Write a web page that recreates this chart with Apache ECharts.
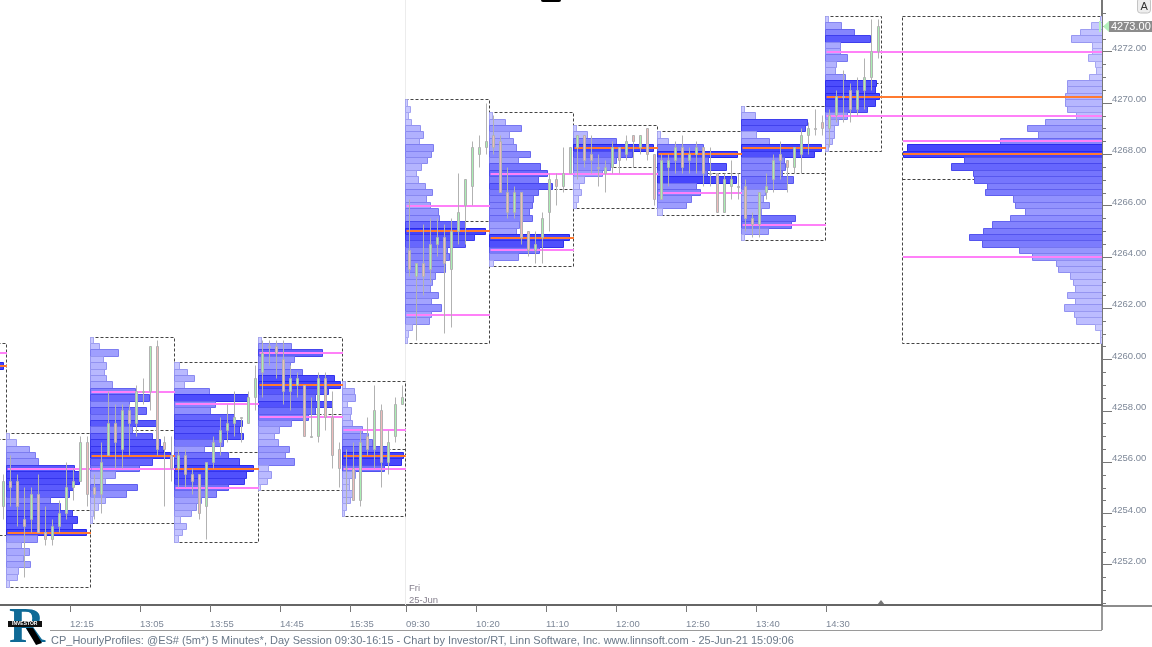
<!DOCTYPE html>
<html><head><meta charset="utf-8">
<style>html,body{margin:0;padding:0;background:#fff}#c{width:1152px;height:647px}</style>
<script src="https://cdn.jsdelivr.net/npm/echarts@6/dist/echarts.min.js"></script>
</head><body><div id="c"></div>
<script>
const FONT='"Liberation Sans",Arial,sans-serif';
const xTickBars=[10,20,30,40,50,58,68,78,88,98,108,118];
const xTickLabels=['12:15','13:05','13:55','14:45','15:35','09:30','10:20','11:10','12:00','12:50','13:40','14:30'];
const yMajorTicks=[4252,4254,4256,4258,4260,4262,4264,4266,4268,4270,4272];
const yMinorTicks=[4250.5,4251,4251.5,4252.5,4253,4253.5,4254.5,4255,4255.5,4256.5,4257,4257.5,4258.5,4259,4259.5,4260.5,4261,4261.5,4262.5,4263,4263.5,4264.5,4265,4265.5,4266.5,4267,4267.5,4268.5,4269,4269.5,4270.5,4271,4271.5,4272.5,4273,4273.5];
const lastPrice=4273;
const sessionBreakBars=[58];

// hourly profiles: first bar, last bar, top row price, POC, value-area prices, row volumes top to bottom
const profileStart=[-11,1,13,25,37,49,58,70,82,94,106,118];
const profileEnd=[1,13,25,37,49,58,70,82,94,106,118,126];
const lineEnd=[1,13,25,37,49,58,70,82,94,106,118,157.43];
const profileHigh=[4260.5,4257,4260.75,4259.75,4260.75,4259,4270,4269.5,4269,4268.75,4269.75,4273.25];
const profilePoc=[4259.75,4253.25,4256.25,4255.75,4259,4256.25,4265,4264.75,4268.25,4268,4268.25,4270.25];
const profileVA=[[4260.25],[4255.75],[4258.75,4255.75],[4258.25,4255],[4260.25,4257.75],[4257.25,4255.75],[4266,4261.75],[4267.25,4264.25],[4267.25],[4266.5],[4265.25],[4272,4269.5]];
const vol0=[0,0,0,81,0,0,0,0,0,0,0,0,0,0,0,0,0,0,0,0,0,0,0,0,0,0,0,0,0,0];
const vol1=[3,10,23,29,32,68,75,73,67,63,44,54,66,71,66,80,31,15,23,17,24,12,11,3];
const vol2=[3,9,28,13,16,14,16,22,45,59,39,56,45,68,42,62,70,73,80,62,49,25,15,47,36,15,8,3,2];
const vol3=[5,13,20,10,35,74,41,36,60,68,65,69,49,30,54,65,79,72,70,54,42,27,22,17,6,12,8,4];
const vol4=[3,33,64,36,32,44,76,82,70,57,74,57,50,33,21,16,20,31,27,36,10,13,9,2];
const vol5=[3,12,13,5,9,8,10,20,26,30,45,61,59,42,13,7,7,10,8,4,2];
const vol6=[2,5,3,6,15,18,14,28,26,22,16,11,13,20,27,21,25,33,34,60,80,69,60,42,44,40,40,30,27,25,33,26,36,26,24,7,3,2];
const vol7=[3,16,32,20,24,27,41,29,51,58,49,63,49,44,43,40,43,30,27,80,74,50,29,4];
const vol8=[3,14,43,80,59,43,37,29,11,6,8,5,3];
const vol9=[3,11,46,80,51,69,50,79,39,43,34,29,5];
const vol10=[3,14,66,64,15,28,80,73,43,44,41,52,46,24,22,28,20,54,50,27,3];
const vol11=[3,16,29,45,15,15,22,11,10,20,51,50,54,50,42,22,13,9,9,7,3];
const profileVols=[vol0,vol1,vol2,vol3,vol4,vol5,vol6,vol7,vol8,vol9,vol10,vol11];

// session volume profile on the right, hanging from the price axis
const sessionBoxStart=128.86, sessionAnchor=157.43;
const sessionHigh=4273.25, sessionPoc=4268, sessionVA=[4268.5,4264];
const sessionVol=[2,11,22,31,10,10,14,7,6,13,35,35,37,37,35,26,57,75,64,102,195,199,138,151,129,128,115,117,89,87,77,92,110,119,133,120,83,70,46,44,32,29,27,35,27,38,28,26,7,2,2];

// 5-minute bars: open, close, low, high
const candles=[
[4254.25,4255.25,4253.75,4255.5],[4255.25,4255,4254.25,4256.25],[4255.25,4254.25,4253.5,4255.5],[4253.75,4253.5,4251.5,4255],[4253.75,4254.75,4253.25,4255],[4254.75,4253.25,4253.25,4255.5],[4253.25,4253,4252.75,4254.25],[4253,4253.5,4252.75,4253.75],[4253.5,4254,4253.25,4254.5],[4254,4255,4253.75,4256],[4255,4255.25,4254.5,4255.75],[4255.25,4256.75,4255.25,4257],
[4256.75,4254.75,4254.25,4257],[4255,4254.75,4253.75,4255.5],[4254.75,4256,4254,4256.75],[4256.25,4257.5,4256.25,4258.75],[4257.5,4256.75,4255.75,4258.25],[4256.5,4258,4255.75,4258.25],[4258,4257.5,4256.25,4258.25],[4257.5,4258.75,4257,4259],[4258.75,4258.75,4258.25,4259.25],[4258.75,4260.5,4258,4260.5],[4260.5,4256.5,4256.25,4260.75],[4256.75,4256.5,4254.25,4257],
[4256.25,4255.75,4255.25,4257],[4255.75,4256.25,4255,4256.5],[4256.25,4255.5,4255,4256.5],[4255.5,4255.25,4254.75,4255.75],[4255.5,4254,4253.75,4255.5],[4254.25,4256,4253,4256],[4256,4256.75,4255.75,4257],[4256.75,4257.25,4256.25,4257.75],[4257.25,4257.5,4256.75,4258.25],[4257.5,4257.75,4257,4258.75],[4257.75,4257.75,4256.75,4257.75],[4257.5,4258.5,4257.5,4258.75],
[4258.5,4259.25,4258,4259.75],[4259.5,4260.25,4258.5,4260.75],[4260.5,4260.5,4259.75,4260.75],[4260.5,4260.25,4259.25,4260.75],[4260,4258.75,4258.25,4260.75],[4258.75,4259.25,4258,4259.75],[4259,4259.25,4258.5,4259.5],[4259,4257,4257,4259],[4257,4257,4257,4258.5],[4257,4259.25,4256.75,4259.5],[4259.25,4257.75,4257.25,4259.5],[4257.75,4256.25,4255.75,4258.75],
[4256.5,4255.75,4255,4256.75],[4255.75,4255.75,4254.25,4256.5],[4255.75,4254.5,4254.5,4256.75],[4254.5,4256.75,4254.25,4257.25],[4257,4256.5,4256.25,4257.75],[4256.5,4258,4255.75,4259],[4258,4256,4255,4258.25],[4256,4256.75,4255.5,4257.25],[4257,4258.25,4256.75,4258.5],[4258.25,4258.5,4258.25,4259],
[4264.25,4263.5,4263.25,4266.25],[4263.25,4263.75,4260.75,4263.75],[4263.75,4263.25,4262.5,4265.25],[4263.5,4264.5,4263,4265.5],[4264.5,4264.75,4264,4265.5],[4264.75,4263.75,4261,4265.25],[4263.5,4265,4261.25,4265.5],[4265,4265.75,4264.5,4267.25],[4266,4267,4264.5,4267],[4266.75,4268.25,4266,4268.5],[4268,4268.25,4267.5,4268.75],[4268.25,4268.5,4268,4270],
[4268.75,4268.25,4268,4269.5],[4268.5,4266.5,4266.5,4268.75],[4266.5,4265.75,4265.5,4267.5],[4265.75,4266.5,4265.5,4266.75],[4266.5,4264.75,4264.5,4266.5],[4265,4264.25,4264,4265],[4264.25,4264.5,4263.75,4265],[4264.75,4265.5,4263.75,4265.75],[4265.75,4267,4265,4267.25],[4267,4266.75,4266,4267.25],[4266.75,4267.25,4266.5,4268.25],[4267.25,4268.25,4267.25,4268.25],
[4268.25,4268.75,4267,4268.75],[4268.75,4267.75,4267.5,4268.75],[4268,4267.75,4267.25,4268.75],[4267.5,4267.5,4266.75,4268],[4267.25,4267.5,4266.5,4267.75],[4267.5,4268.25,4267.25,4268.5],[4268.25,4267.75,4267.25,4268.25],[4268,4268.5,4267.75,4268.75],[4268.75,4268.5,4267.5,4268.75],[4268.25,4268.75,4268,4268.75],[4269,4268,4267.75,4269],[4268,4266.25,4266,4268],
[4266.25,4267.75,4266.25,4268],[4267.5,4267.75,4266.75,4268],[4267.75,4268.25,4267.25,4268.5],[4268.25,4267.5,4267.25,4268.75],[4267.75,4268,4267.25,4268.25],[4268,4268.25,4267.25,4268.5],[4268.25,4267.25,4266.75,4268.25],[4267.25,4267.25,4266.75,4268.25],[4267.25,4265.75,4265.75,4267.25],[4265.75,4267,4265.75,4267.25],[4266.75,4267,4266.25,4267.75],[4266.75,4266.75,4266.25,4267.25],
[4266.75,4265.5,4265,4267],[4265.5,4265.25,4264.75,4265.75],[4265.25,4266.5,4264.75,4266.5],[4266.5,4266.75,4266.25,4267.25],[4267,4267.75,4266.5,4268],[4268,4267.75,4267,4268.5],[4267.75,4267.5,4266.5,4267.75],[4267.5,4268.25,4267.25,4268.25],[4268,4268.75,4267.25,4269],[4268.75,4269,4268,4269.25],[4269,4269,4268.75,4269.75],[4269.25,4269,4268.75,4269.5],
[4269,4269.5,4268.25,4269.75],[4269.5,4270.25,4269.25,4270.5],[4270.25,4270.25,4269.25,4271.25],[4270.5,4269.75,4269.25,4270.75],[4269.75,4270.5,4269.5,4271],[4270.5,4271,4269.75,4271.75],[4271,4272,4270.5,4273.25],[4272,4273,4271.75,4273.25]
];

// data tables built from the arrays above
const ROW=0.25, PX_PER_BAR=7, EDGE=-0.07;
const boxRows=[], barRows=[], poc=[], va=[];
profileVols.forEach((vols,k)=>{
  const low=profileHigh[k]-(vols.length-1)*ROW;
  boxRows.push([profileStart[k]+EDGE,profileEnd[k]+EDGE,profileHigh[k]+ROW/2,low-ROW/2]);
  const mx=Math.max(...vols);
  vols.forEach((v,i)=>{ if(v>0) barRows.push([profileStart[k]+EDGE,1,profileHigh[k]-i*ROW,v,v/mx]); });
  poc.push([profileStart[k]+EDGE,lineEnd[k],profilePoc[k]]);
  profileVA[k].forEach(p=>va.push([profileStart[k]+EDGE,lineEnd[k],p]));
});
{
  const low=sessionHigh-(sessionVol.length-1)*ROW;
  boxRows.push([sessionBoxStart,sessionAnchor,sessionHigh+ROW/2,low-ROW/2]);
  const mx=Math.max(...sessionVol);
  sessionVol.forEach((v,i)=>barRows.push([sessionAnchor,-1,sessionHigh-i*ROW,v,v/mx]));
  poc.push([sessionBoxStart,sessionAnchor,sessionPoc]);
  sessionVA.forEach(p=>va.push([sessionBoxStart,sessionAnchor,p]));
}
const snap=v=>Math.round(v-0.5)+0.5;
const mix=(a,b,t)=>Math.round(a+(b-a)*t);
const rgb=(lo,hi,t)=>`rgb(${mix(lo[0],hi[0],t)},${mix(lo[1],hi[1],t)},${mix(lo[2],hi[2],t)})`;

const renderBox=(p,api)=>{
  const a=api.coord([api.value(0),api.value(2)]), b=api.coord([api.value(1),api.value(3)]);
  const x0=snap(a[0]),x1=snap(b[0]),y0=snap(a[1]),y1=snap(b[1]),ym=snap((a[1]+b[1])/2);
  const st={stroke:'#444',lineWidth:1,lineDash:[3,2],fill:null};
  return {type:'group',children:[
    {type:'rect',shape:{x:x0,y:y0,width:x1-x0,height:y1-y0},style:st},
    {type:'line',shape:{x1:x0,y1:ym,x2:x1,y2:ym},style:st}
  ]};
};
const renderBar=(p,api)=>{
  const price=api.value(2),end=api.value(0)+api.value(1)*api.value(3)/PX_PER_BAR;
  const a=api.coord([api.value(0),price+ROW/2]), b=api.coord([end,price-ROW/2]);
  const t=api.value(4);
  const x0=Math.min(a[0],b[0]),x1=Math.max(a[0],b[0]);
  const y0=snap(a[1]),y1=snap(b[1]);
  return {type:'rect',shape:{x:snap(x0),y:y0,width:Math.max(1,Math.round(x1-x0)),height:y1-y0},
    style:{fill:rgb([208,208,255],[68,68,252],t),stroke:rgb([172,172,242],[40,40,236],t),lineWidth:1}};
};
const renderLine=color=>(p,api)=>{
  const a=api.coord([api.value(0),api.value(2)]), b=api.coord([api.value(1),api.value(2)]);
  const y=Math.round(a[1]);
  return {type:'rect',shape:{x:a[0]+1,y:y-1,width:b[0]-a[0]-1,height:2},style:{fill:color}};
};
const renderCandle=(p,api)=>{
  const i=api.value(0),o=api.value(1),c=api.value(2),l=api.value(3),h=api.value(4);
  const x=Math.floor(api.coord([i+0.5,0])[0]);
  const top=snap(api.coord([0,Math.max(o,c)])[1]),bot=snap(api.coord([0,Math.min(o,c)])[1]);
  const hi=snap(api.coord([0,h])[1]),lo=snap(api.coord([0,l])[1]);
  const fill=c>o?'#aaeeb4':c<o?'#eebcbc':'#c8c8c8';
  return {type:'group',children:[
    {type:'line',shape:{x1:x+0.5,y1:hi,x2:x+0.5,y2:lo},style:{stroke:'#b2b2b2',lineWidth:1}},
    {type:'rect',shape:{x:x-0.5,y:top,width:2,height:Math.max(1,bot-top)},style:{fill,stroke:'#b2b2b2',lineWidth:1}}
  ]};
};
const renderBreak=(p,api)=>{
  const a=api.coord([api.value(0),4274]), r=p.coordSys;
  const x=snap(a[0]);
  return {type:'line',shape:{x1:x,y1:r.y,x2:x,y2:r.y+r.height},style:{stroke:'#ececec',lineWidth:1}};
};
const renderTag=(p,api)=>{
  const a=api.coord([sessionAnchor,api.value(0)]);
  const x=a[0],y=a[1];
  return {type:'group',children:[
    {type:'rect',shape:{x:x-3,y:y-5,width:2,height:11},style:{fill:'#b4f0bc'}},
    {type:'polygon',shape:{points:[[x+1,y+0.5],[x+7,y-5],[x+7,y+6]]},style:{fill:'#b4f0bc'}},
    {type:'rect',shape:{x:x+7,y:y-5,width:43,height:11},style:{fill:'#8c8c8c'}},
    {type:'text',x:x+9,y:y+0.5,style:{text:'4273.00',fill:'#fff',font:'11px '+FONT,textVerticalAlign:'middle'}}
  ]};
};

const Y0=4272+51.7/25.65, Y1=4272-(605-51.7)/25.65;
const chart=echarts.init(document.getElementById('c'),null,{renderer:'canvas'});
chart.setOption({
  animation:false,backgroundColor:'#fff',
  grid:{left:0,right:50,top:0,bottom:42,containLabel:false},
  xAxis:{type:'value',min:0,max:157.43,position:'bottom',splitLine:{show:false},
    axisLine:{onZero:false,lineStyle:{color:'#666',width:2}},
    axisTick:{customValues:xTickBars,length:7,lineStyle:{color:'#777'}},
    axisLabel:{customValues:xTickBars,formatter:v=>xTickLabels[xTickBars.indexOf(v)],align:'left',margin:14,color:'#7e8898',fontSize:9.5,fontFamily:FONT}},
  yAxis:[
    {type:'value',min:Y1,max:Y0,position:'right',splitLine:{show:false},
      axisLine:{show:true,onZero:false,lineStyle:{color:'#777',width:2}},
      axisTick:{customValues:yMajorTicks,length:10,lineStyle:{color:'#777'}},
      axisLabel:{customValues:yMajorTicks,formatter:v=>v.toFixed(2),margin:10,color:'#7e8898',fontSize:9.5,fontFamily:FONT,verticalAlign:'bottom',lineHeight:7}},
    {type:'value',min:Y1,max:Y0,position:'right',splitLine:{show:false},
      axisLine:{show:false,onZero:false},
      axisTick:{show:true,customValues:yMinorTicks,length:4,lineStyle:{color:'#777'}},
      axisLabel:{show:false}}
  ],
  series:[
    {type:'custom',z:1,silent:true,clip:true,renderItem:renderBreak,data:sessionBreakBars.map(b=>[b])},
    {type:'custom',z:2,silent:true,clip:true,renderItem:renderBox,data:boxRows},
    {type:'custom',z:3,silent:true,clip:true,renderItem:renderBar,data:barRows},
    {type:'custom',z:4,silent:true,clip:true,renderItem:renderLine('#ff80f8'),data:va},
    {type:'custom',z:4,silent:true,clip:true,renderItem:renderLine('#ff7a30'),data:poc},
    {type:'custom',z:5,silent:true,clip:true,renderItem:renderCandle,data:candles.map((c,i)=>[i,...c])},
    {type:'custom',z:6,silent:true,clip:false,renderItem:renderTag,data:[[lastPrice]]}
  ],
  graphic:[
    {type:'rect',shape:{x:541,y:-3,width:20,height:5,r:2},style:{fill:'#000'}},
    {type:'rect',shape:{x:1137.5,y:-2,width:13,height:15,r:3},style:{fill:'#eee',stroke:'#c4c4c4'}},
    {type:'text',x:1140.5,y:1,style:{text:'A',fill:'#333',font:'11px '+FONT}},
    {type:'text',x:409,y:583,style:{text:'Fri',fill:'#86808e',font:'9.5px '+FONT}},
    {type:'text',x:409,y:595,style:{text:'25-Jun',fill:'#86808e',font:'9.5px '+FONT}},
    {type:'polygon',shape:{points:[[877,605],[881,600],[885,605]]},style:{fill:'#777'}},
    {type:'line',shape:{x1:1102,y1:606,x2:1152,y2:606},style:{stroke:'#666',lineWidth:1.5}},
    {type:'line',shape:{x1:1102,y1:605,x2:1102,y2:630},style:{stroke:'#777',lineWidth:1.5}},
    {type:'line',shape:{x1:50,y1:630.5,x2:1102,y2:630.5},style:{stroke:'#9a9a9a',lineWidth:1}},
    {type:'text',x:51,y:635,style:{text:'CP_HourlyProfiles: @ES# (5m*) 5 Minutes*, Day Session 09:30-16:15 - Chart by Investor/RT, Linn Software, Inc. www.linnsoft.com - 25-Jun-21 15:09:06',fill:'#6a7888',font:'11px '+FONT}},
    // logo
    {type:'text',x:9,y:604,style:{text:'R',fill:'#0f6a96',font:'bold 50px "Liberation Serif",serif'}},
    {type:'polygon',shape:{points:[[26,628],[33,628],[42,643],[36,645]]},style:{fill:'#000'}},
    {type:'rect',shape:{x:8,y:621,width:34,height:6},style:{fill:'#111'}},
    {type:'text',x:12,y:621,style:{text:'INVESTOR',fill:'#fff',font:'bold 5px '+FONT}}
  ]
});
</script></body></html>
